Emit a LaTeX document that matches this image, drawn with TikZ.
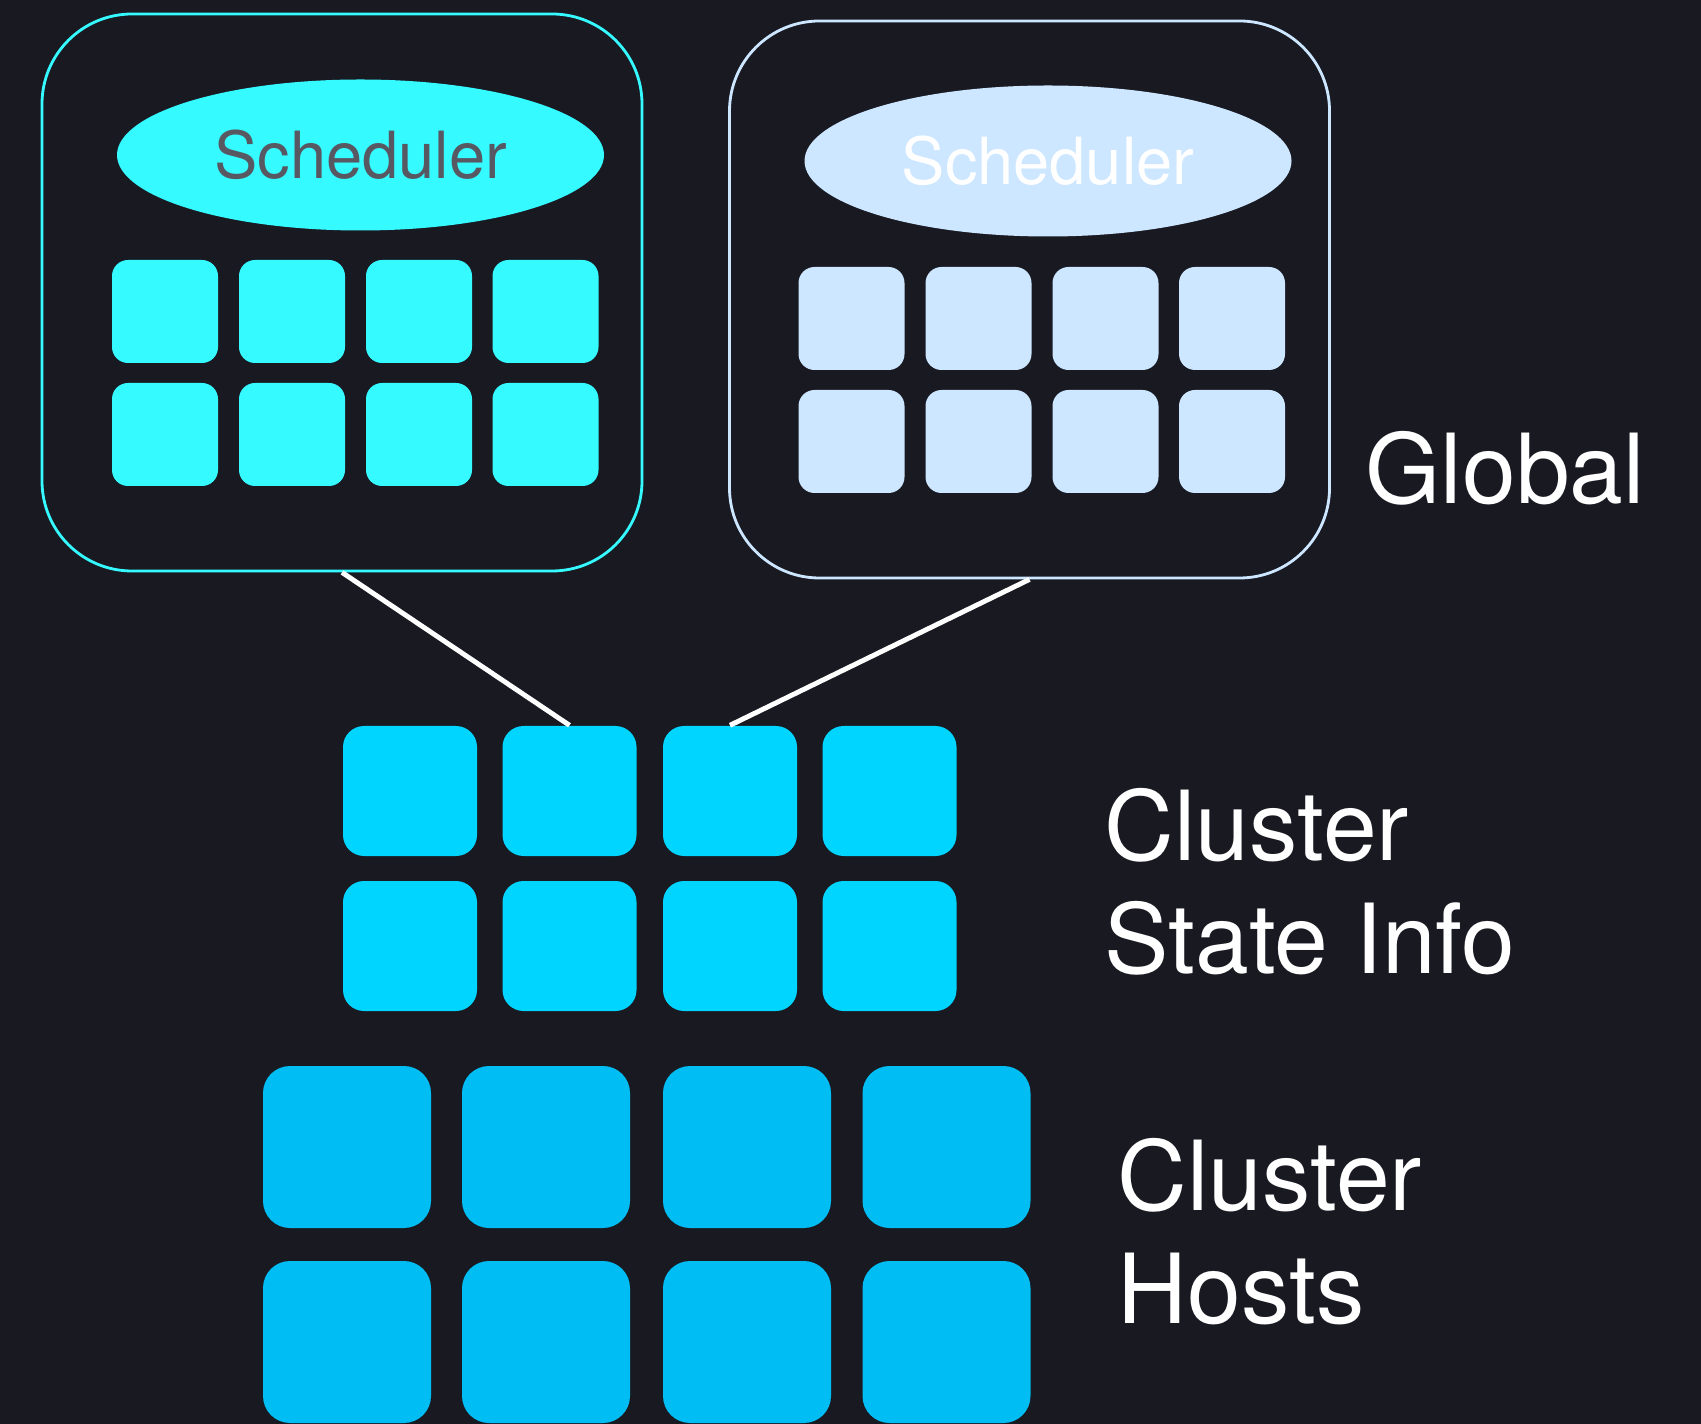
\documentclass[tikz,border=0pt]{standalone}
\usepackage{fontspec}
\setmainfont{TeX Gyre Heros}
\usetikzlibrary{shapes.geometric, positioning}
\definecolor{bgnavy}{RGB}{25,25,34}
\definecolor{schedcyan}{RGB}{53,250,255}
\definecolor{schedpale}{RGB}{204,231,255}
\definecolor{schedgray}{RGB}{88,88,98}
\definecolor{statecyan}{RGB}{0,213,255}
\definecolor{hostblue}{RGB}{0,190,243}
\tikzstyle{schedframe} = [rectangle, draw, line width=0.8pt, rounded corners=0.9cm,
                  minimum width=6cm, minimum height=5.57cm, inner sep=0pt]
\tikzstyle{sched} = [ellipse, inner sep=0pt, minimum width=4.87cm, minimum height=1.51cm,
                  font=\fontsize{18.5}{22}\selectfont]
\tikzstyle{slot} = [rectangle, rounded corners=0.16cm, inner sep=0pt,
                  minimum width=1.06cm, minimum height=1.03cm]
\tikzstyle{stateinfo} = [rectangle, rounded corners=0.21cm, fill=statecyan, inner sep=0pt,
                  minimum width=1.34cm, minimum height=1.30cm]
\tikzstyle{host} = [rectangle, rounded corners=0.27cm, fill=hostblue, inner sep=0pt,
                  minimum width=1.68cm, minimum height=1.62cm]
\tikzstyle{tier} = [text=white, align=left, anchor=base west, inner sep=0pt,
                  font=\fontsize{27.5}{32}\selectfont]
\tikzstyle{link} = [draw=white, line width=1.4pt]

\begin{document}
\begin{tikzpicture}
        \fill [bgnavy] (0,0) rectangle (17.01,-14.24);
        \useasboundingbox (0,0) rectangle (17.01,-14.24);

        % two schedulers
        \node [schedframe, draw=schedcyan] (lbox) at (3.42,-2.925) {};
        \node [schedframe, draw=schedpale] (rbox) at (10.295,-2.995) {};
        \node [sched, fill=schedcyan, text=schedgray] (lsched) at (3.605,-1.55) {Scheduler};
        \node [sched, fill=schedpale, text=white] (rsched) at (10.48,-1.61) {Scheduler};
        \foreach \c [count=\i] in {1.65,2.92,4.19,5.455} {
            \foreach \r [count=\j] in {3.115,4.345} {
                \node [slot, fill=schedcyan] (l\j\i) at (\c,-\r) {};
                \node [slot, fill=schedpale] (r\j\i) at (\c+6.865,-\r-0.07) {};
            }
        }

        % cluster state and hosts
        \foreach \c [count=\i] in {4.10,5.695,7.30,8.895} {
            \node [stateinfo] (st1\i) at (\c,-7.91) {};
            \node [stateinfo] (st2\i) at (\c,-9.46) {};
        }
        \foreach \c [count=\i] in {3.47,5.46,7.47,9.465} {
            \node [host] (h1\i) at (\c,-11.47) {};
            \node [host] (h2\i) at (\c,-13.42) {};
        }

        \node [tier] (global) at (13.65,-5.04) {Global};
        \node [tier] (statelbl) at (11.04,-9.73) {Cluster\\State Info};
        \node [tier] (hostlbl) at (11.17,-13.23) {Cluster\\Hosts};

        \draw [link] (lbox.south) -- (st12.north);
        \draw [link] (rbox.south) -- (st13.north);
\end{tikzpicture}
\end{document}
